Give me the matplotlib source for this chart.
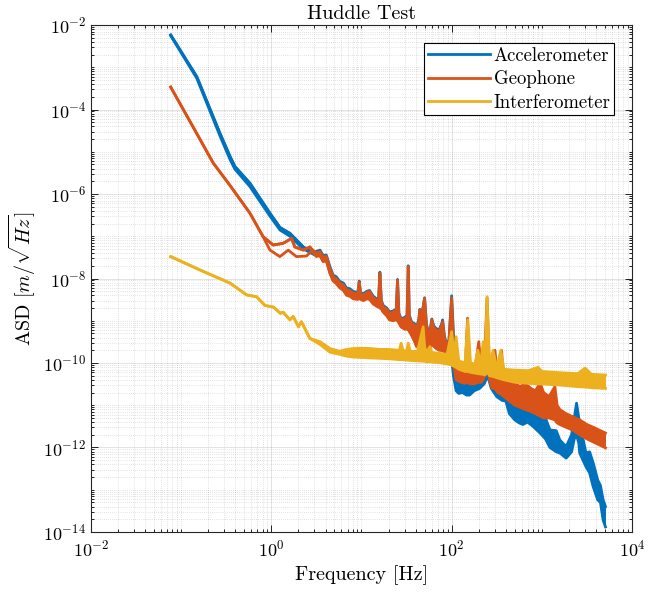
import matplotlib
matplotlib.use("Agg")
import matplotlib.pyplot as plt
from matplotlib.ticker import FixedLocator, NullFormatter

plt.rcParams['font.family'] = ['cmr10', 'DejaVu Serif']
plt.rcParams['mathtext.fontset'] = 'cm'
plt.rcParams['axes.formatter.use_mathtext'] = True

# ---------------- data ----------------
# Accelerometer: upper / lower envelope of the spectrum
acc_f = [0.0766, 0.149, 0.269, 0.348, 0.394, 0.579, 0.966, 1.25, 1.61, 2.26,
         2.92, 3.16, 3.47, 3.76, 4.07, 4.47, 4.85, 5.25, 5.75, 6.31, 6.84, 7.41, 8.13, 9.12, 9.44, 9.77,
         10.5, 11.5, 12.3, 13.5, 14.7, 15.5, 16.0, 16.6, 17.4, 19.1, 20.4, 22.4, 24.3, 25.1, 26.0, 27.5,
         30.2, 32.0, 33.0, 33.9, 36.0, 38.9, 40.7, 43.2, 44.4, 46.2, 50.1, 52.5, 55.0, 58.2, 60.3, 63.1,
         67.6, 72.4, 77.6, 79.4, 83.2, 87.1, 93.3, 100, 104.7, 112, 120, 132, 146, 158, 178, 204, 229,
         251, 275, 316, 363, 398, 437, 501, 562, 617, 692, 794, 955, 1096, 1230, 1445, 1585, 1862, 2138,
         2291, 2427, 2570, 2630, 3090, 3388, 3715, 4169, 4467, 4786, 5080]
acc_hi = [5.8e-3, 6.0e-4, 2.75e-5, 7.8e-6, 4.5e-6, 1.8e-6, 3.5e-7, 1.6e-7, 1.17e-7, 5.6e-8,
          4.2e-8, 4.4e-8, 4.7e-8, 3.5e-8, 3.6e-8, 1.9e-8, 1.2e-8, 1.1e-8, 8.5e-9, 7.8e-9, 5.9e-9, 5.75e-9, 4.9e-9, 4.7e-9, 8.7e-9, 4.5e-9,
          4.4e-9, 5.0e-9, 5.2e-9, 3.8e-9, 3.3e-9, 3.4e-9, 1.41e-8, 3.0e-9, 2.3e-9, 2.0e-9, 1.62e-9, 1.7e-9, 1.9e-9, 9.5e-9, 1.5e-9, 1.12e-9,
          1.2e-9, 1.35e-9, 2.0e-8, 1.35e-9, 9.3e-10, 8.5e-10, 6.8e-10, 1.07e-9, 1.86e-9, 1.2e-9, 3.5e-9, 8.5e-10, 5.4e-10, 6.8e-10, 1.1e-9, 7.6e-10,
          6.5e-10, 6.0e-10, 8.5e-10, 1.05e-9, 4.3e-10, 3.0e-10, 3.4e-10, 3.9e-9, 5.0e-10, 5.75e-11, 5.0e-11, 4.5e-11, 3.2e-11, 3.5e-11, 4.0e-11, 4.0e-11, 5.0e-11,
          7.9e-11, 4.0e-11, 3.2e-11, 2.7e-11, 2.5e-11, 1.3e-11, 1.12e-11, 1.0e-11, 9.3e-12, 1.12e-11, 7.9e-12, 6.6e-12, 5.0e-12, 2.6e-12, 2.5e-12, 1.5e-12, 1.05e-12, 2.0e-12,
          5.0e-12, 1.12e-11, 5.0e-12, 3.8e-12, 7.4e-13, 7.9e-13, 4.3e-13, 1.7e-13, 1.26e-13, 5.75e-14, 4.0e-14]
acc_lo = [5.8e-3, 6.0e-4, 2.75e-5, 7.8e-6, 4.5e-6, 1.8e-6, 3.5e-7, 1.6e-7, 1.17e-7, 5.6e-8,
          3.8e-8, 3.5e-8, 3.5e-8, 2.6e-8, 2.75e-8, 1.38e-8, 9.1e-9, 7.9e-9, 6.3e-9, 5.5e-9, 4.2e-9, 4.0e-9, 3.5e-9, 3.3e-9, 3.6e-9, 3.3e-9,
          3.2e-9, 3.5e-9, 3.3e-9, 2.6e-9, 2.3e-9, 2.2e-9, 2.1e-9, 2.0e-9, 1.66e-9, 1.38e-9, 1.1e-9, 1.05e-9, 1.1e-9, 1.05e-9, 9.3e-10, 7.4e-10,
          6.6e-10, 6.6e-10, 6.6e-10, 5.9e-10, 4.7e-10, 3.3e-10, 2.6e-10, 4.2e-10, 5.2e-10, 5.2e-10, 4.7e-10, 3.3e-10, 1.8e-10, 2.6e-10, 3.0e-10, 2.6e-10,
          2.3e-10, 2.1e-10, 2.0e-10, 2.0e-10, 1.8e-10, 1.6e-10, 1.4e-10, 1.26e-10, 5.0e-11, 2.2e-11, 1.9e-11, 2.0e-11, 1.74e-11, 1.74e-11, 2.2e-11, 2.5e-11, 3.2e-11,
          5.0e-11, 2.5e-11, 1.6e-11, 1.3e-11, 1.26e-11, 6.3e-12, 4.5e-12, 3.8e-12, 3.5e-12, 4.0e-12, 3.2e-12, 2.2e-12, 1.6e-12, 1.0e-12, 7.9e-13, 7.4e-13, 5.6e-13, 7.9e-13,
          1.6e-12, 2.0e-12, 1.26e-12, 7.4e-13, 3.5e-13, 2.5e-13, 1.17e-13, 5.75e-14, 5.0e-14, 1.9e-14, 1.32e-14]
# second accelerometer channel (low frequencies)
acc2_f = [0.0766, 0.149, 0.269, 0.348, 0.394, 0.579, 0.966, 1.25, 1.61, 2.26, 2.92]
acc2 = [5.6e-3, 5.5e-4, 2.4e-5, 6.6e-6, 3.9e-6, 1.5e-6, 3.0e-7, 1.4e-7, 1.0e-7, 5.0e-8, 3.8e-8]

# Geophone
geo_f = [0.0766, 0.149, 0.227, 0.348, 0.58, 0.81, 1.05, 1.35, 1.68, 1.82, 2.26, 2.68,
         2.88, 3.16, 3.47, 3.76, 4.07, 4.47, 4.85, 5.25, 5.75, 6.31, 6.84, 7.41, 8.13, 9.12, 9.44, 9.77,
         10.5, 11.5, 12.3, 13.5, 14.7, 15.5, 16.0, 16.6, 17.4, 19.1, 20.4, 22.4, 24.3, 25.1, 26.0, 27.5,
         30.2, 32.0, 33.0, 33.9, 36.0, 38.9, 40.7, 43.2, 44.4, 46.2, 50.1, 52.5, 55.0, 58.2, 60.3, 63.1,
         67.6, 72.4, 77.6, 79.4, 83.2, 87.1, 93.3, 100, 104.7, 112, 126, 141, 150, 158, 178, 200, 214, 229,
         247, 263, 282, 302, 324, 357, 380, 437, 501, 575, 661, 759, 851, 955, 1047, 1202, 1396, 1479,
         1585, 1862, 2188, 2630, 3162, 3802, 4467, 5080]
geo_hi = [3.4e-4, 2.7e-5, 5.4e-6, 1.6e-6, 3.5e-7, 9.8e-8, 6.2e-8, 6.8e-8, 8.9e-8, 5.6e-8, 4.7e-8, 5.6e-8,
          4.68e-8, 3.98e-8, 4.37e-8, 3.16e-8, 3.39e-8, 1.74e-8, 1.1e-8, 1.0e-8, 7.8e-9, 7.1e-9, 5.4e-9, 5.2e-9, 4.5e-9, 4.4e-9, 8.3e-9, 4.2e-9,
          4.1e-9, 4.7e-9, 4.9e-9, 3.5e-9, 3.1e-9, 3.2e-9, 1.32e-8, 2.8e-9, 2.1e-9, 1.9e-9, 1.5e-9, 1.6e-9, 1.8e-9, 9.1e-9, 1.4e-9, 1.05e-9,
          1.12e-9, 1.26e-9, 1.9e-8, 1.26e-9, 8.7e-10, 7.9e-10, 6.3e-10, 1.0e-9, 1.8e-9, 1.12e-9, 3.4e-9, 7.9e-10, 5.0e-10, 6.3e-10, 1.05e-9, 7.1e-10,
          6.0e-10, 5.6e-10, 7.9e-10, 9.5e-10, 4.0e-10, 2.8e-10, 3.2e-10, 3.5e-9, 2.5e-10, 7.9e-11, 6.8e-11, 6.3e-11, 1.15e-9, 6.0e-11, 5.6e-11, 3.2e-10, 6.3e-11, 7.1e-11,
          3.5e-9, 6.3e-11, 4.5e-11, 2.0e-10, 4.5e-11, 2.0e-10, 3.5e-11, 4.0e-11, 3.2e-11, 2.8e-11, 3.2e-11, 2.5e-11, 2.2e-11, 3.4e-11, 2.0e-11, 1.6e-11, 2.75e-11, 1.0e-11,
          7.9e-12, 6.3e-12, 5.4e-12, 4.5e-12, 3.5e-12, 2.95e-12, 2.5e-12, 2.2e-12]
geo_lo = [3.4e-4, 2.7e-5, 5.4e-6, 1.6e-6, 3.5e-7, 9.8e-8, 6.2e-8, 6.8e-8, 8.9e-8, 5.6e-8, 4.7e-8, 5.6e-8,
          4.17e-8, 3.31e-8, 3.47e-8, 2.51e-8, 2.63e-8, 1.32e-8, 8.7e-9, 7.6e-9, 6.0e-9, 5.2e-9, 4.0e-9, 3.8e-9, 3.3e-9, 3.2e-9, 3.5e-9, 3.2e-9,
          3.0e-9, 3.3e-9, 3.2e-9, 2.5e-9, 2.2e-9, 2.1e-9, 2.0e-9, 1.9e-9, 1.6e-9, 1.3e-9, 1.05e-9, 1.0e-9, 1.05e-9, 1.0e-9, 8.9e-10, 7.1e-10,
          6.3e-10, 6.3e-10, 6.3e-10, 5.6e-10, 4.5e-10, 3.2e-10, 2.45e-10, 4.0e-10, 5.0e-10, 5.0e-10, 4.5e-10, 3.2e-10, 1.7e-10, 2.5e-10, 2.8e-10, 2.5e-10,
          2.2e-10, 2.0e-10, 2.0e-10, 2.0e-10, 1.8e-10, 1.7e-10, 1.6e-10, 1.6e-10, 1.0e-10, 4.0e-11, 3.5e-11, 3.3e-11, 3.5e-11, 3.2e-11, 3.2e-11, 3.5e-11, 3.5e-11, 4.5e-11,
          7.9e-11, 4.0e-11, 2.5e-11, 2.5e-11, 2.0e-11, 1.8e-11, 1.6e-11, 1.26e-11, 1.0e-11, 8.9e-12, 7.9e-12, 7.1e-12, 6.3e-12, 5.6e-12, 5.0e-12, 5.0e-12, 4.5e-12, 3.8e-12,
          3.5e-12, 3.0e-12, 2.6e-12, 2.0e-12, 1.6e-12, 1.32e-12, 1.12e-12, 9.8e-13]
# second geophone channel (low frequencies)
geo2_f = [0.81, 0.966, 1.245, 1.54, 1.9, 2.45, 2.88]
geo2 = [9.8e-8, 4.7e-8, 3.3e-8, 4.7e-8, 3.3e-8, 3.4e-8, 4.7e-8]

# Interferometer
int_f = [0.0766, 0.161, 0.348, 0.532, 0.687, 0.851, 1.06, 1.26, 1.35, 1.61, 1.75, 2.0, 2.16, 2.45, 2.68,
         3.47, 4.47, 5.75, 6.84, 8.13, 10, 12.6, 15.8, 20, 26.3, 27.5, 28.8, 31.6, 33.0, 34.7, 41.7, 48.3,
         50.1, 52.5, 57.5, 60.3, 72.4, 89.1, 100, 107, 112, 120, 141, 151, 162, 182, 195, 209, 224, 234,
         247, 263, 288, 316, 351, 380, 501, 708, 912, 1000, 1585, 2512, 3020, 3548, 5080]
int_hi = [3.3e-8, 1.6e-8, 7.8e-9, 4.1e-9, 3.7e-9, 2.3e-9, 2.1e-9, 1.5e-9, 1.6e-9, 1.05e-9, 1.26e-9, 7.2e-10, 9.5e-10, 5.5e-10, 3.8e-10,
          3.2e-10, 2.2e-10, 1.9e-10, 2.1e-10, 2.2e-10, 2.24e-10, 2.2e-10, 2.1e-10, 2.1e-10, 2.0e-10, 2.95e-10, 2.0e-10, 1.9e-10, 2.95e-10, 1.9e-10, 1.86e-10, 7.2e-10,
          2.4e-10, 1.8e-10, 2.45e-10, 1.78e-10, 1.7e-10, 1.6e-10, 5.5e-10, 1.4e-10, 4.2e-10, 1.12e-10, 1.0e-10, 1.05e-9, 1.0e-10, 9.5e-11, 2.0e-10, 8.9e-11, 3.2e-10, 8.7e-11,
          3.7e-9, 8.3e-11, 2.0e-10, 7.6e-11, 2.0e-10, 7.1e-11, 6.8e-11, 6.6e-11, 7.9e-11, 6.3e-11, 5.9e-11, 5.6e-11, 7.6e-11, 5.4e-11, 5.2e-11]
int_lo = [3.3e-8, 1.6e-8, 7.8e-9, 4.1e-9, 3.7e-9, 2.3e-9, 2.1e-9, 1.5e-9, 1.6e-9, 1.05e-9, 1.26e-9, 7.2e-10, 9.5e-10, 5.5e-10, 3.8e-10,
          2.75e-10, 1.8e-10, 1.6e-10, 1.45e-10, 1.38e-10, 1.35e-10, 1.32e-10, 1.29e-10, 1.26e-10, 1.2e-10, 1.2e-10, 1.2e-10, 1.17e-10, 1.17e-10, 1.15e-10, 1.12e-10, 1.1e-10,
          1.1e-10, 1.07e-10, 1.07e-10, 1.05e-10, 1.02e-10, 9.5e-11, 8.9e-11, 8.3e-11, 7.9e-11, 7.1e-11, 6.3e-11, 6.3e-11, 6.0e-11, 5.75e-11, 5.6e-11, 5.5e-11, 5.4e-11, 5.2e-11,
          6.3e-11, 5.0e-11, 4.8e-11, 4.5e-11, 4.2e-11, 4.0e-11, 3.5e-11, 3.3e-11, 3.2e-11, 3.2e-11, 3.0e-11, 2.75e-11, 2.7e-11, 2.6e-11, 2.5e-11]

labels = ["Accelerometer", "Geophone", "Interferometer"]
colors = ["#0072BD", "#D95319", "#EDB120"]
xticks = [1e-2, 1e0, 1e2, 1e4]
yticks = [1e-14, 1e-12, 1e-10, 1e-8, 1e-6, 1e-4, 1e-2]

# ---------------- plot ----------------
fig = plt.figure(figsize=(6.48, 5.96), dpi=100)
ax = fig.add_axes([0.1404, 0.1074, 0.8349, 0.8506])
lw = 2.0

series = [(acc_f, acc_hi, acc_lo, acc2_f, acc2),
          (geo_f, geo_hi, geo_lo, geo2_f, geo2),
          (int_f, int_hi, int_lo, None, None)]
handles = []
for (f, hi, lo, f2, y2), c, lab in zip(series, colors, labels):
    ax.fill_between(f, lo, hi, color=c, lw=0, zorder=2)
    h, = ax.plot(f, hi, color=c, lw=lw, solid_joinstyle='round', zorder=2, label=lab)
    ax.plot(f, lo, color=c, lw=lw, solid_joinstyle='round', zorder=2)
    if f2 is not None:
        ax.plot(f2, y2, color=c, lw=lw, solid_joinstyle='round', zorder=2)
    handles.append(h)

ax.set_xscale('log')
ax.set_yscale('log')
ax.set_xlim(1e-2, 1e4)
ax.set_ylim(1e-14, 1e-2)

xminor = [m * 10.0 ** e for e in range(-2, 4) for m in range(1, 10)]
yminor = [m * 10.0 ** e for e in range(-14, -2) for m in range(1, 10)]
ax.xaxis.set_major_locator(FixedLocator(xticks))
ax.yaxis.set_major_locator(FixedLocator(yticks))
ax.xaxis.set_minor_locator(FixedLocator(xminor))
ax.yaxis.set_minor_locator(FixedLocator(yminor))
ax.xaxis.set_minor_formatter(NullFormatter())
ax.yaxis.set_minor_formatter(NullFormatter())

ax.grid(True, which='major', color='#262626', alpha=0.15, lw=0.6, ls='-')
ax.grid(True, which='minor', color='#262626', alpha=0.25, lw=0.5, ls=(0, (1, 2)))
ax.set_axisbelow(True)

ax.tick_params(which='both', direction='in', top=True, right=True, labelsize=13, width=0.6)
ax.tick_params(which='major', length=5)
ax.tick_params(which='minor', length=2.5)
ax.tick_params(axis='x', which='major', pad=5)
for s in ax.spines.values():
    s.set_linewidth(0.8)
    s.set_color('#262626')

ax.set_xlabel('Frequency [Hz]', fontsize=14.5)
ax.set_ylabel(r'ASD $[m/\sqrt{Hz}]$', fontsize=14.5)
ax.set_title('Huddle Test', fontsize=14.5, pad=4)

leg = ax.legend(handles=handles, loc='upper right', fontsize=13.5, frameon=True, fancybox=False,
                framealpha=1, edgecolor='black', handlelength=3.3, handletextpad=0.2,
                borderaxespad=0.95, borderpad=0.2, labelspacing=0.3)
leg.get_frame().set_linewidth(0.8)

fig.savefig('out.png', dpi=100)
